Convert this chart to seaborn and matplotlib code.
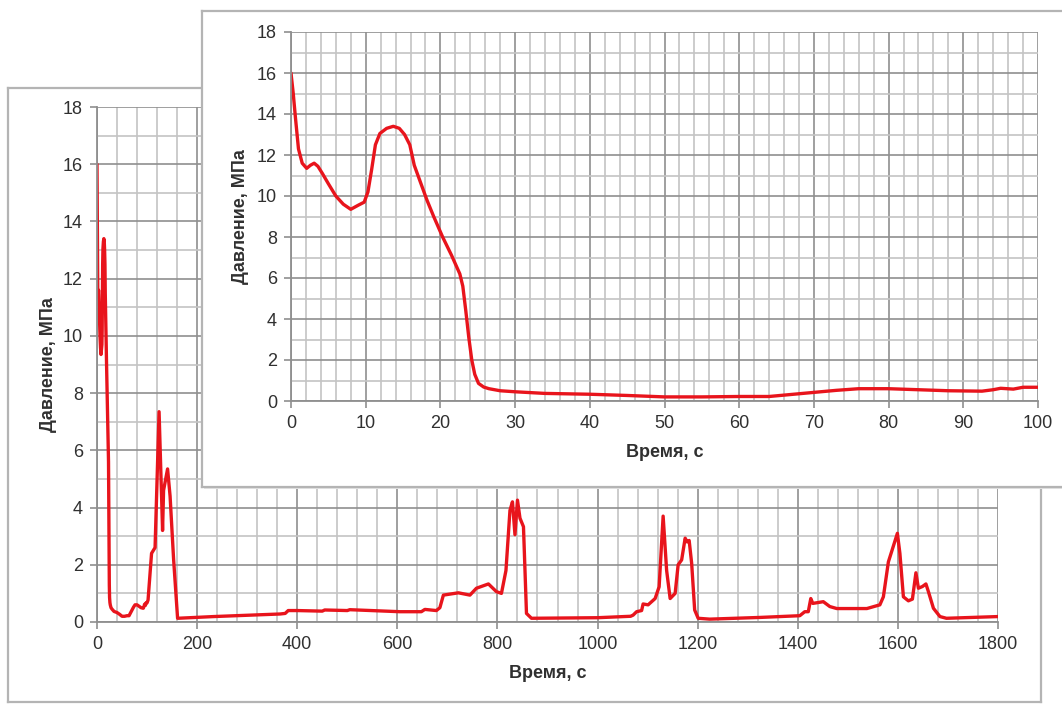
import matplotlib
matplotlib.use("Agg")
import matplotlib.pyplot as plt
import seaborn as sns
import numpy as np
from matplotlib.ticker import MultipleLocator

sns.set_theme(style="white")
plt.rcParams['font.family'] = ['Liberation Sans', 'DejaVu Sans']

# ---- data (time in s, pressure in MPa) ----
time_s = [
    0, 0.3, 0.6, 1.0, 1.5, 2.1, 2.6, 3.1, 3.6, 4.2, 5, 6, 7, 8, 9, 9.8, 10.3, 10.8,
    11.3, 11.9, 12.8, 13.7, 14.5, 15.2, 15.9, 16.5, 17.2, 18.2, 19.1, 20.3, 21.5,
    22.6, 23.0, 23.4, 23.8, 24.2, 24.6, 25.1, 25.8, 26.5, 28, 30, 34, 40, 45, 50,
    55, 60, 64, 67, 70, 73, 76, 80, 84, 88, 92.5, 94, 95, 96.7, 98, 100,
    102, 109, 116, 124, 131, 133, 141, 146, 153, 161, 233, 366, 376, 382, 400,
    450, 455, 500, 505, 605, 648, 655, 678, 685, 692, 722, 745, 758, 782, 798,
    808, 817, 825, 830, 835, 840, 845, 852, 858, 868, 1000, 1066, 1071, 1078,
    1088, 1091, 1101, 1115, 1123, 1131, 1138, 1145, 1155, 1161, 1168, 1175,
    1179, 1183, 1188, 1194, 1201, 1224, 1325, 1404, 1414, 1421, 1426, 1430,
    1451, 1464, 1478, 1538, 1564, 1571, 1581, 1599, 1604, 1611, 1621, 1629,
    1636, 1641, 1649, 1656, 1661, 1671, 1684, 1697, 1800,
]
pressure_mpa = [
    16.0, 15.0, 13.8, 12.3, 11.6, 11.35, 11.5, 11.6, 11.45, 11.1, 10.6, 10.0, 9.6,
    9.35, 9.55, 9.7, 10.2, 11.3, 12.5, 13.05, 13.3, 13.4, 13.3, 13.0, 12.5, 11.5,
    10.8, 9.8, 9.0, 8.0, 7.1, 6.2, 5.6, 4.4, 3.1, 2.0, 1.3, 0.86, 0.68, 0.6, 0.5,
    0.45, 0.37, 0.33, 0.27, 0.2, 0.2, 0.22, 0.22, 0.32, 0.42, 0.52, 0.6, 0.6,
    0.55, 0.5, 0.48, 0.55, 0.62, 0.58, 0.67, 0.67,
    0.77, 2.4, 2.6, 7.35, 3.2, 4.6, 5.35, 4.4, 2.2, 0.13, 0.19, 0.28, 0.3, 0.4,
    0.4, 0.38, 0.42, 0.4, 0.43, 0.36, 0.36, 0.44, 0.4, 0.5, 0.94, 1.02, 0.94,
    1.18, 1.33, 1.06, 1.0, 1.8, 3.9, 4.2, 3.05, 4.26, 3.63, 3.33, 0.3, 0.13,
    0.15, 0.2, 0.24, 0.36, 0.4, 0.63, 0.6, 0.82, 1.23, 3.7, 1.8, 0.82, 1.0, 2.0,
    2.17, 2.93, 2.8, 2.85, 2.05, 0.42, 0.13, 0.1, 0.16, 0.22, 0.36, 0.36, 0.82,
    0.65, 0.71, 0.54, 0.47, 0.47, 0.6, 0.88, 2.1, 3.1, 2.4, 0.88, 0.74, 0.8,
    1.72, 1.18, 1.24, 1.33, 1.06, 0.48, 0.19, 0.13, 0.19,
]

x_label = "Время, с"
y_label = "Давление, МПа"
main_xticks = [0, 200, 400, 600, 800, 1000, 1200, 1400, 1600, 1800]
inset_xticks = [0, 10, 20, 30, 40, 50, 60, 70, 80, 90, 100]
yticks = [0, 2, 4, 6, 8, 10, 12, 14, 16, 18]

W, H = 1062, 704
fig = plt.figure(figsize=(W / 100, H / 100), dpi=100)
fig.patch.set_facecolor("white")

LINE = "#e8141c"
TXT = "#303030"
MAJ = "#8f8f8f"
MIN = "#c4c4c4"
FRAME = "#b4b4b4"


def px_axes(x0, y0, x1, y1, **kw):
    """Axes given by pixel box (top-left origin)."""
    return fig.add_axes([x0 / W, (H - y1) / H, (x1 - x0) / W, (y1 - y0) / H], **kw)


def frame_ax(x0, y0, x1, y1, z):
    a = px_axes(x0, y0, x1, y1)
    a.set_zorder(z)
    a.set_facecolor("white")
    a.set_xticks([])
    a.set_yticks([])
    for s in a.spines.values():
        s.set_color(FRAME)
        s.set_linewidth(1.6)
    return a


def style_chart(ax, xmax, xmin, xticks, xl_pad, yl_pad):
    ax.set_xlim(0, xmax)
    ax.set_ylim(0, 18)
    ax.set_xticks(xticks)
    ax.set_yticks(yticks)
    ax.xaxis.set_minor_locator(MultipleLocator(xmin))
    ax.yaxis.set_minor_locator(MultipleLocator(1))
    ax.grid(True, which="major", color=MAJ, linewidth=1.2)
    ax.grid(True, which="minor", color=MIN, linewidth=1.2)
    ax.set_axisbelow(True)
    for side in ("top", "right"):
        ax.spines[side].set_visible(False)
    for side in ("left", "bottom"):
        ax.spines[side].set_color(MAJ)
        ax.spines[side].set_linewidth(1.3)
    ax.tick_params(axis="both", which="major", direction="out", length=5,
                   width=1.2, color=MAJ, labelsize=13, labelcolor=TXT, pad=5,
                   left=True, bottom=True)
    ax.tick_params(axis="both", which="minor", length=0)
    ax.set_xlabel(x_label, fontsize=13, fontweight="bold", color=TXT, labelpad=xl_pad)
    ax.set_ylabel(y_label, fontsize=13, fontweight="bold", color=TXT, labelpad=yl_pad)
    ax.set_facecolor("white")


# main frame and main chart
frame_ax(8, 88, 1041, 702, 0)
ax = px_axes(97, 107, 998, 622)
ax.set_zorder(1)
sns.lineplot(x=time_s, y=pressure_mpa, ax=ax, color=LINE, linewidth=2.4,
             estimator=None, sort=False)
style_chart(ax, 1800, 40, main_xticks, 9, 4)

# inset frame (extends beyond the right edge) with a faint shadow
sh = px_axes(204, 13, 1070, 489)
sh.set_zorder(2)
sh.set_facecolor("#e4e4e4")
sh.set_xticks([]); sh.set_yticks([])
for s in sh.spines.values():
    s.set_visible(False)
frame_ax(202, 11, 1070, 487, 3)

ins = px_axes(291, 32, 1038, 401)
ins.set_zorder(4)
sns.lineplot(x=time_s, y=pressure_mpa, ax=ins, color=LINE, linewidth=2.4,
             estimator=None, sort=False)
style_chart(ins, 100, 2, inset_xticks, 9, 6)

fig.savefig("out.png", dpi=100, facecolor="white")
